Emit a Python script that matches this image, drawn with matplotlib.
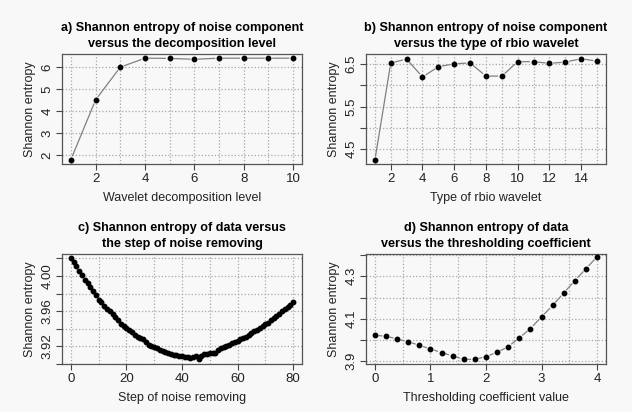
import matplotlib.pyplot as plt
from matplotlib.ticker import MultipleLocator
import numpy as np

plt.rcParams['font.family'] = ['Liberation Sans', 'DejaVu Sans']

# a) entropy of noise component vs decomposition level
level = np.arange(1, 11)
ent_level = [1.79, 4.51, 6.00, 6.41, 6.40, 6.36, 6.41, 6.41, 6.41, 6.41]

# b) entropy of noise component vs rbio wavelet type
rbio = np.arange(1, 16)
ent_rbio = [4.24, 6.53, 6.62, 6.20, 6.44, 6.51, 6.53, 6.22, 6.22, 6.56,
            6.56, 6.52, 6.55, 6.63, 6.57]

# c) entropy of data vs step of noise removing
step = np.arange(0, 81)
ent_step = [4.021, 4.016, 4.011, 4.006, 4.001, 3.996, 3.992, 3.987, 3.983, 3.978,
            3.973, 3.970, 3.966, 3.962, 3.960, 3.957, 3.953, 3.950, 3.946, 3.943,
            3.941, 3.939, 3.936, 3.933, 3.931, 3.929, 3.928, 3.925, 3.922, 3.920,
            3.919, 3.918, 3.916, 3.915, 3.914, 3.913, 3.911, 3.910, 3.910, 3.909,
            3.909, 3.908, 3.908, 3.907, 3.908, 3.909, 3.906, 3.909, 3.911, 3.911,
            3.912, 3.912, 3.913, 3.916, 3.918, 3.919, 3.921, 3.922, 3.924, 3.925,
            3.926, 3.928, 3.930, 3.931, 3.933, 3.935, 3.937, 3.939, 3.941, 3.943,
            3.945, 3.947, 3.950, 3.952, 3.955, 3.957, 3.960, 3.962, 3.965, 3.967,
            3.971]

# d) entropy of data vs thresholding coefficient
coef = np.round(np.arange(0, 4.01, 0.2), 1)
ent_coef = [4.022, 4.018, 4.005, 3.992, 3.975, 3.958, 3.941, 3.925, 3.909, 3.909,
            3.922, 3.942, 3.969, 4.010, 4.054, 4.109, 4.163, 4.221, 4.280, 4.336,
            4.392]

bg = '#f8f8f8'
fig = plt.figure(figsize=(6.32, 4.12), dpi=100, facecolor=bg)

panels = [
    dict(rect=[0.0981, 0.6019, 0.3797, 0.2670], x=level, y=ent_level,
         title='a) Shannon entropy of noise component\nversus the decomposition level',
         xlabel='Wavelet decomposition level', xlim=(0.64, 10.36), ylim=(1.59, 6.6),
         xmaj=2, xgrid=1, ymaj=1, ygrid=1, yfmt='{:.0f}', ylab_every=1),
    dict(rect=[0.5791, 0.6019, 0.3797, 0.2670], x=rbio, y=ent_rbio,
         title='b) Shannon entropy of noise component\nversus the type of rbio wavelet',
         xlabel='Type of rbio wavelet', xlim=(0.44, 15.56), ylim=(4.15, 6.74),
         xmaj=2, xgrid=1, ymaj=0.5, ygrid=0.5, yfmt='{:.1f}', ylab_every=2, ylab_start=4.5),
    dict(rect=[0.0981, 0.1165, 0.3797, 0.2670], x=step, y=ent_step,
         title='c) Shannon entropy of data versus\nthe step of noise removing',
         xlabel='Step of noise removing', xlim=(-3.2, 83.2), ylim=(3.900, 4.025),
         xmaj=20, xgrid=10, ymaj=0.02, ygrid=0.02, yfmt='{:.2f}', ylab_every=2, ylab_start=3.92),
    dict(rect=[0.5791, 0.1165, 0.3797, 0.2670], x=coef, y=ent_coef,
         title='d) Shannon entropy of data\nversus the thresholding coefficient',
         xlabel='Thresholding coefficient value', xlim=(-0.16, 4.16), ylim=(3.887, 4.405),
         xmaj=1, xgrid=0.5, ymaj=0.1, ygrid=0.1, yfmt='{:.1f}', ylab_every=2, ylab_start=3.9),
]

for p in panels:
    ax = fig.add_axes(p['rect'], facecolor=bg)
    ax.set_xlim(*p['xlim'])
    ax.set_ylim(*p['ylim'])

    # grid lines
    ax.xaxis.set_minor_locator(MultipleLocator(p['xgrid']))
    ax.xaxis.set_major_locator(MultipleLocator(p['xmaj']))
    ax.yaxis.set_major_locator(MultipleLocator(p['ymaj']))
    ax.grid(True, which='both', color='#a8a8a8', linestyle=':', linewidth=0.9)
    ax.set_axisbelow(True)

    # R style type="b": lines with gaps around the points
    xs, ys = list(p['x']), list(p['y'])
    for i in range(len(xs) - 1):
        ax.annotate('', xy=(xs[i + 1], ys[i + 1]), xytext=(xs[i], ys[i]),
                    arrowprops=dict(arrowstyle='-', color='#808080', lw=0.9,
                                    shrinkA=3, shrinkB=3))
    ax.plot(xs, ys, 'o', color='black', markersize=3.2, linestyle='none', zorder=3)

    # y tick labels only on every other tick
    yt = [t for t in ax.get_yticks() if p['ylim'][0] <= t <= p['ylim'][1]]
    labels = []
    start = p.get('ylab_start', yt[0])
    for t in yt:
        k = round((t - start) / p['ymaj'])
        labels.append(p['yfmt'].format(t) if k % p['ylab_every'] == 0 else '')
    ax.set_yticks(yt)
    ax.set_yticklabels(labels, rotation=90, va='center')

    ax.tick_params(which='major', length=4.3, width=0.8, color='#444444',
                   labelsize=9.5, labelcolor='#222222', pad=2)
    ax.tick_params(which='minor', length=0)
    for s in ax.spines.values():
        s.set_color('#555555')
        s.set_linewidth(0.9)

    ax.set_title(p['title'], fontsize=9.1, fontweight='bold', pad=5, linespacing=1.45)
    ax.set_xlabel(p['xlabel'], fontsize=9, color='#222222', labelpad=5)
    ax.set_ylabel('Shannon entropy', fontsize=9, color='#222222', labelpad=4)

fig.savefig('out.png', dpi=100, facecolor=bg)
